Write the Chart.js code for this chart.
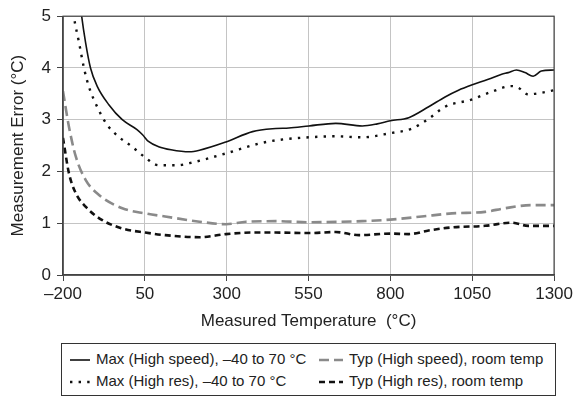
<!DOCTYPE html>
<html>
<head>
<meta charset="utf-8">
<script src="https://cdn.jsdelivr.net/npm/chart.js@4"></script>
<style>
  body { margin: 0; background: #fff; }
  #wrap { position: relative; width: 576px; height: 396px; font-family: 'Liberation Sans', Arial, sans-serif; }
  #box { position: absolute; left: 0; top: 0; width: 576px; height: 340px; }
  #legend { position: absolute; left: 61px; top: 343px; width: 495px; height: 53px; box-sizing: border-box;
            border: 1px solid #333; font-size: 15px; color: #222; }
  .item { position: absolute; height: 22px; line-height: 22px; white-space: nowrap; }
  .item svg { vertical-align: middle; margin-right: 6px; }
</style>
</head>
<body>
<div id="wrap">
  <div id="box"><canvas id="lineChart"></canvas></div>
  <div id="legend"></div>
</div>
<script>
// Max (High speed), -40 to 70 C  -- solid
var hsMaxT = [-150, -143, -131, -116, -95, -60, -19, 26, 43, 61, 92, 130, 186, 217, 298, 379, 450, 490, 551, 633, 714, 760, 800, 856, 917, 967, 1008, 1048, 1099, 1140, 1160, 1185, 1211, 1236, 1261, 1300];
var hsMaxV = [5.4, 5.0, 4.49, 4.0, 3.64, 3.29, 3.0, 2.81, 2.71, 2.58, 2.48, 2.42, 2.38, 2.41, 2.57, 2.77, 2.83, 2.84, 2.88, 2.93, 2.88, 2.92, 2.98, 3.04, 3.25, 3.44, 3.57, 3.67, 3.78, 3.88, 3.91, 3.96, 3.91, 3.84, 3.94, 3.96];

// Typ (High speed), room temp -- grey dashed
var hsTypT = [-200, -182, -161, -131, -91, -19, 51, 112, 217, 298, 359, 450, 551, 714, 800, 896, 988, 1089, 1150, 1231, 1300];
var hsTypV = [3.55, 2.87, 2.29, 1.84, 1.55, 1.29, 1.19, 1.13, 1.03, 0.98, 1.03, 1.04, 1.02, 1.04, 1.07, 1.13, 1.19, 1.22, 1.29, 1.35, 1.35];

// Max (High res), -40 to 70 C -- dotted
var hrMaxT = [-175, -167, -151, -136, -121, -91, -65, -30, 11, 49, 92, 150, 186, 298, 399, 460, 551, 633, 714, 800, 866, 917, 967, 1048, 1109, 1170, 1190, 1221, 1251, 1300];
var hrMaxV = [5.4, 5.0, 4.49, 4.0, 3.64, 3.19, 2.90, 2.67, 2.48, 2.28, 2.12, 2.12, 2.16, 2.35, 2.54, 2.61, 2.66, 2.68, 2.66, 2.74, 2.83, 3.02, 3.25, 3.39, 3.54, 3.65, 3.62, 3.49, 3.51, 3.57];

// Typ (High res), room temp -- black dashed
var hrTypT = [-200, -182, -161, -131, -80, -19, 51, 112, 217, 298, 379, 450, 551, 633, 704, 800, 856, 917, 988, 1089, 1170, 1221, 1300];
var hrTypV = [2.65, 1.97, 1.58, 1.32, 1.06, 0.90, 0.82, 0.77, 0.73, 0.79, 0.82, 0.82, 0.81, 0.83, 0.77, 0.80, 0.79, 0.86, 0.92, 0.95, 1.01, 0.95, 0.95];

var seriesLabels = ['Max (High speed), \u201340 to 70 \u00b0C', 'Typ (High speed), room temp',
                    'Max (High res), \u201340 to 70 \u00b0C', 'Typ (High res), room temp'];

var xTicks = [-200, 50, 300, 550, 800, 1050, 1300];
var yTicks = [0, 1, 2, 3, 4, 5];

function pts(t, v) {
    return t.map(function (x, i) { return { x: x, y: v[i] }; });
}

var font = "'Liberation Sans', Arial, sans-serif";

// frame on top and right of the plot
var framePlugin = {
    id: 'frame',
    afterDraw: function (chart) {
        var a = chart.chartArea, ctx = chart.ctx;
        ctx.save();
        ctx.strokeStyle = '#444';
        ctx.lineWidth = 1.2;
        ctx.strokeRect(a.left, a.top, a.right - a.left, a.bottom - a.top);
        ctx.restore();
    }
};

var ctx = document.getElementById('lineChart').getContext('2d');

var myChart = new Chart(ctx, {
    type: 'line',
    data: {
        datasets: [
            { label: seriesLabels[0], data: pts(hsMaxT, hsMaxV), borderColor: '#111', borderWidth: 1.6 },
            { label: seriesLabels[1], data: pts(hsTypT, hsTypV), borderColor: '#8a8a8a', borderWidth: 2.6, borderDash: [10, 5] },
            { label: seriesLabels[2], data: pts(hrMaxT, hrMaxV), borderColor: '#111', borderWidth: 2.4, borderDash: [2.4, 6.2] },
            { label: seriesLabels[3], data: pts(hrTypT, hrTypV), borderColor: '#111', borderWidth: 2.6, borderDash: [6, 4] }
        ]
    },
    options: {
        responsive: true,
        maintainAspectRatio: false,
        animation: false,
        cubicInterpolationMode: 'monotone',
        elements: { point: { radius: 0 } },
        layout: { padding: { top: 16, right: 20, bottom: 0, left: 0 } },
        plugins: { legend: { display: false }, tooltip: { enabled: false } },
        scales: {
            x: {
                type: 'linear',
                min: -200,
                max: 1300,
                afterBuildTicks: function (s) { s.ticks = xTicks.map(function (v) { return { value: v }; }); },
                afterFit: function (s) { s.height = 65; },
                ticks: {
                    color: '#222', padding: 3,
                    font: { family: font, size: 17 },
                    callback: function (v) { return String(v).replace('-', '\u2013'); }
                },
                grid: { color: '#c4c4c4', lineWidth: 1, tickLength: 6, tickColor: '#444' },
                border: { color: '#444', width: 1.4 },
                title: { display: true, text: 'Measured Temperature  (\u00b0C)', color: '#222',
                         font: { family: font, size: 17 }, padding: { top: 2, bottom: 8 } }
            },
            y: {
                min: 0,
                max: 5,
                afterBuildTicks: function (s) { s.ticks = yTicks.map(function (v) { return { value: v }; }); },
                afterFit: function (s) { s.width = 63; },
                ticks: { color: '#222', padding: 6, font: { family: font, size: 17 } },
                grid: { color: '#c4c4c4', lineWidth: 1, tickLength: 6, tickColor: '#444' },
                border: { color: '#444', width: 1.4 },
                title: { display: true, text: 'Measurement Error (\u00b0C)', color: '#222',
                         font: { family: font, size: 17 }, padding: { top: 8, bottom: 0 } }
            }
        }
    },
    plugins: [framePlugin]
});

// html legend, two columns, built from the datasets
var legend = document.getElementById('legend');
var colX = [8, 257];
var rowY = [4, 26];
myChart.data.datasets.forEach(function (ds, i) {
    var item = document.createElement('div');
    item.className = 'item';
    item.style.left = colX[i % 2] + 'px';
    item.style.top = rowY[Math.floor(i / 2)] + 'px';
    var w = i % 2 ? 24 : 20;
    var dash = ds.borderDash ? ds.borderDash.join(' ') : 'none';
    item.innerHTML = '<svg width="' + w + '" height="6"><line x1="0" y1="3" x2="' + w + '" y2="3" stroke="' +
        ds.borderColor + '" stroke-width="' + ds.borderWidth + '" stroke-dasharray="' + dash + '"/></svg>' + ds.label;
    legend.appendChild(item);
});
</script>
</body>
</html>
